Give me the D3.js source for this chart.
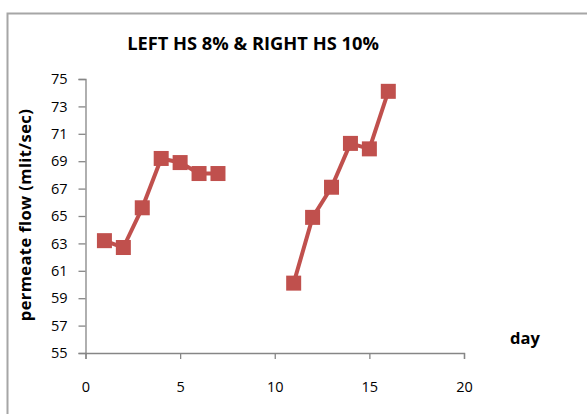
<!DOCTYPE html>
<html>
<head>
<meta charset="utf-8">
<script src="https://cdn.jsdelivr.net/npm/d3@7"></script>
<style>
  html, body { margin: 0; padding: 0; background: #fff; }
  svg { display: block; }
  text { font-family: "Open Sans", Lato, sans-serif; fill: #000; }
</style>
</head>
<body>
<svg id="chart" width="587" height="414"></svg>
<script>
// HS 8% run (days 1-7) and HS 10% run (days 11-16)
const leftDays = [1, 2, 3, 4, 5, 6, 7];
const leftFlow = [63.2, 62.7, 65.6, 69.2, 68.9, 68.1, 68.1];
const rightDays = [11, 12, 13, 14, 15, 16];
const rightFlow = [60.1, 64.9, 67.1, 70.3, 69.9, 74.1];
const xTicks = [0, 5, 10, 15, 20];
const yTicks = [55, 57, 59, 61, 63, 65, 67, 69, 71, 73, 75];

const titleText = "LEFT HS 8% & RIGHT HS 10%";
const yTitle = "permeate flow (mlit/sec)";
const xTitle = "day";

const svg = d3.select("#chart");
const seriesColor = "#C0504D";
const axisColor = "#868686";
const fontStack = "'Open Sans', Lato, sans-serif";

// outer chart-area frame
svg.append("rect")
  .attr("x", 7.5).attr("y", 13.5)
  .attr("width", 620).attr("height", 420)
  .attr("fill", "none")
  .attr("stroke", "#a6a6a6")
  .attr("stroke-width", 2);

const x = d3.scaleLinear().domain([0, 20]).range([85.5, 464]);
const y = d3.scaleLinear().domain([55, 75]).range([353, 79]);

// axes
const xAxis = svg.append("g")
  .attr("transform", `translate(0,${y(55)})`)
  .call(d3.axisBottom(x).tickValues(xTicks).tickSize(6).tickPadding(23));
const yAxis = svg.append("g")
  .attr("transform", `translate(${x(0)},0)`)
  .call(d3.axisLeft(y).tickValues(yTicks).tickSize(7).tickPadding(11));

[xAxis, yAxis].forEach(g => {
  g.select(".domain").attr("stroke", axisColor).attr("stroke-width", 1.3);
  g.selectAll(".tick line").attr("stroke", axisColor).attr("stroke-width", 1.3);
  g.selectAll(".tick text")
    .attr("font-family", fontStack)
    .attr("font-size", 14.5)
    .attr("fill", "#000");
});

// title
svg.append("text")
  .attr("x", 253).attr("y", 50)
  .attr("text-anchor", "middle")
  .attr("font-size", 18.3)
  .attr("font-weight", "bold")
  .text(titleText);

// axis titles
svg.append("text")
  .attr("transform", "translate(31,215) rotate(-90)")
  .attr("text-anchor", "middle")
  .attr("font-size", 16.5)
  .attr("font-weight", "bold")
  .attr("letter-spacing", 0.4)
  .text(yTitle);

svg.append("text")
  .attr("x", 525).attr("y", 344)
  .attr("text-anchor", "middle")
  .attr("font-size", 16.5)
  .attr("font-weight", "bold")
  .text(xTitle);

// series lines and square markers
const line = d3.line().x(d => x(d[0])).y(d => y(d[1]));
const markerSize = 15;

[[leftDays, leftFlow], [rightDays, rightFlow]].forEach(([days, flow]) => {
  const pts = days.map((d, i) => [d, flow[i]]);
  svg.append("path")
    .datum(pts)
    .attr("d", line)
    .attr("fill", "none")
    .attr("stroke", seriesColor)
    .attr("stroke-width", 4)
    .attr("stroke-linejoin", "round");
  svg.append("g").selectAll("rect")
    .data(pts)
    .join("rect")
    .attr("x", d => x(d[0]) - markerSize / 2)
    .attr("y", d => y(d[1]) - markerSize / 2)
    .attr("width", markerSize)
    .attr("height", markerSize)
    .attr("fill", seriesColor);
});
</script>
</body>
</html>
